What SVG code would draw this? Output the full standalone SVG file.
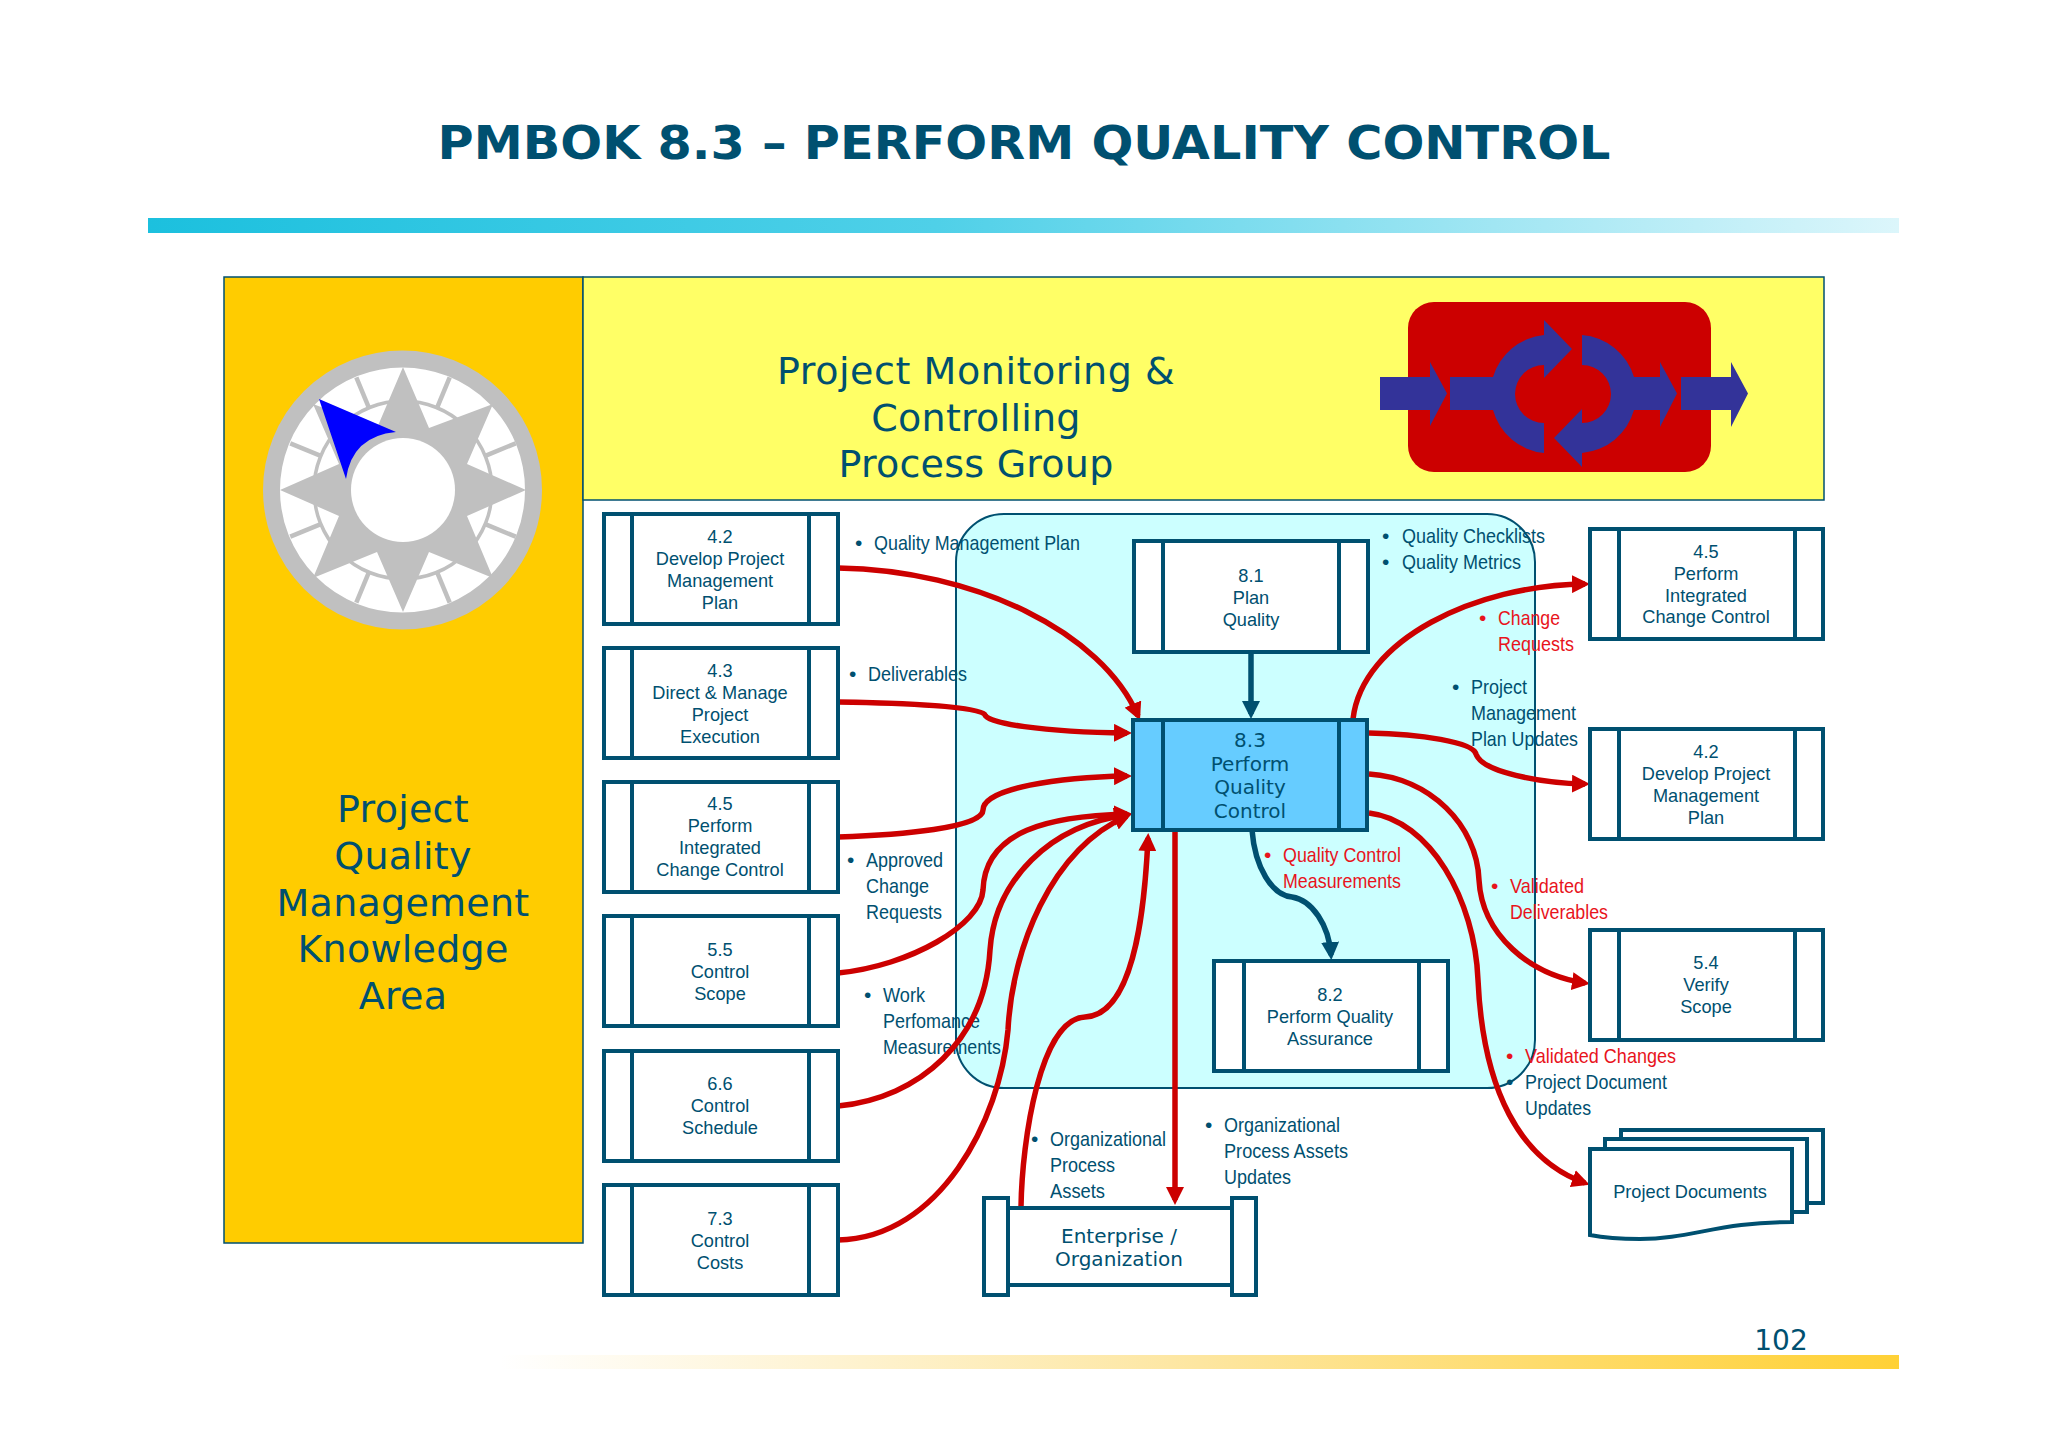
<svg xmlns="http://www.w3.org/2000/svg" width="2048" height="1447" viewBox="0 0 2048 1447">
<style>
.box{fill:#fff;stroke:#005070;stroke-width:4}
.div{stroke:#005070;stroke-width:4;fill:none}
.t{font-family:"Liberation Sans",Arial,sans-serif;font-size:18.2px;fill:#005070;text-anchor:middle}
.d{font-family:"DejaVu Sans",Verdana,sans-serif;fill:#005070;text-anchor:middle}
.big{font-size:38px;letter-spacing:.25px}
.mid{font-size:20px}
.l{font-family:"Liberation Sans",Arial,sans-serif;font-size:21px;fill:#005070}
.r{fill:#e8141c}
.red{fill:none;stroke:#cc0000;stroke-width:5.5;marker-end:url(#ar)}
.teal{fill:none;stroke:#005070;stroke-width:5.5;marker-end:url(#at)}
.grey{fill:#c0c0c0}
.ind{fill:#333399}
</style>
<defs>
<linearGradient id="gt"><stop offset="0" stop-color="#1cc0de"/><stop offset=".45" stop-color="#4fd0e8"/><stop offset="1" stop-color="#dcf6fb"/></linearGradient>
<linearGradient id="gb"><stop offset="0" stop-color="#ffffff"/><stop offset=".5" stop-color="#fde6a0"/><stop offset="1" stop-color="#ffd136"/></linearGradient>
<marker id="ar" markerUnits="userSpaceOnUse" viewBox="0 0 18 18" markerWidth="18" markerHeight="18" refX="13" refY="9" orient="auto"><path d="M0 0L18 9L0 18Z" fill="#cc0000"/></marker>
<marker id="at" markerUnits="userSpaceOnUse" viewBox="0 0 18 18" markerWidth="18" markerHeight="18" refX="13" refY="9" orient="auto"><path d="M0 0L18 9L0 18Z" fill="#005070"/></marker>
</defs>
<rect width="2048" height="1447" fill="#fff"/>
<text id="title" x="1024" y="159" font-family="'DejaVu Sans',Verdana,sans-serif" font-weight="700" font-size="46" fill="#005070" text-anchor="middle" textLength="1173" lengthAdjust="spacingAndGlyphs">PMBOK 8.3 – PERFORM QUALITY CONTROL</text>
<rect x="148" y="218" width="1751" height="15" fill="url(#gt)"/>
<rect x="500" y="1355" width="1399" height="14" fill="url(#gb)"/>
<text x="1781" y="1350" class="d" font-size="28">102</text>

<g id="knowledge-area">
<rect x="224" y="277" width="359" height="966" fill="#ffcc00" stroke="#005070" stroke-width="1.5"/>
<text class="d big" x="403" y="822">Project</text>
<text class="d big" x="403" y="869">Quality</text>
<text class="d big" x="403" y="916">Management</text>
<text class="d big" x="403" y="962">Knowledge</text>
<text class="d big" x="403" y="1009">Area</text>
</g>
<g id="compass">
<circle cx="402.500" cy="490" r="131" fill="#fff" stroke="#c0c0c0" stroke-width="17"/>
<circle cx="403" cy="490" r="89" fill="none" stroke="#c0c0c0" stroke-width="3.500"/>
<g stroke="#c0c0c0" stroke-width="4.500">
<line x1="403" y1="401" x2="403" y2="368" transform="rotate(22.5 403 490)"/>
<line x1="403" y1="401" x2="403" y2="368" transform="rotate(67.5 403 490)"/>
<line x1="403" y1="401" x2="403" y2="368" transform="rotate(112.5 403 490)"/>
<line x1="403" y1="401" x2="403" y2="368" transform="rotate(157.5 403 490)"/>
<line x1="403" y1="401" x2="403" y2="368" transform="rotate(202.5 403 490)"/>
<line x1="403" y1="401" x2="403" y2="368" transform="rotate(247.5 403 490)"/>
<line x1="403" y1="401" x2="403" y2="368" transform="rotate(292.5 403 490)"/>
<line x1="403" y1="401" x2="403" y2="368" transform="rotate(337.5 403 490)"/>
</g>
<polygon class="grey" points="403,367 429,428 493,404 467,464 526,490 467,516 493,578 429,552 403,612 377,552 313,578 339,516 280,490 339,464 313,404 377,428"/>
<path d="M319 399L396 432Q352 436 346 479Z" fill="#0000ff"/>
<circle cx="403" cy="490" r="52" fill="#fff"/>
</g>
<g id="process-group">
<rect x="583" y="277" width="1241" height="223" fill="#ffff66" stroke="#005070" stroke-width="1.5"/>
<text class="d big" x="976" y="384" textLength="398">Project Monitoring &amp;</text>
<text class="d big" x="976" y="431">Controlling</text>
<text class="d big" x="976" y="477">Process Group</text>
<rect x="1408" y="302" width="303" height="170" rx="26" fill="#cc0000"/>
<path class="ind" d="M1380 377H1430V362L1447 393.500L1430 426V410H1380Z"/>
<path class="ind" d="M1450 377H1493A59 59 0 0 1 1544 335V320L1572 349L1544 378V365A29 29 0 0 0 1544 423V453A59 59 0 0 1 1493 410H1450Z"/>
<path class="ind" d="M1582 335A59 59 0 0 1 1634 377H1660V362L1677 393.500L1660 427V410H1634A59 59 0 0 1 1582 453V467L1554 438L1582 409V423A29 29 0 0 0 1582 365Z"/>
<path class="ind" d="M1681 377H1731V362L1748 393.500L1731 427V410H1681Z"/>
</g>
<rect id="process-area" x="956" y="514" width="579" height="574" rx="48" fill="#ccffff" stroke="#005070" stroke-width="2"/>

<g id="input-labels">
<text class="l" x="855" y="550">•</text><text class="l" x="874" y="550" textLength="206" lengthAdjust="spacingAndGlyphs">Quality Management Plan</text>
<text class="l" x="849" y="681">•</text><text class="l" x="868" y="681" textLength="99" lengthAdjust="spacingAndGlyphs">Deliverables</text>
<text class="l" x="847" y="867">•</text><text class="l" x="866" y="867" textLength="77" lengthAdjust="spacingAndGlyphs">Approved</text>
<text class="l" x="866" y="893" textLength="63" lengthAdjust="spacingAndGlyphs">Change</text>
<text class="l" x="866" y="919" textLength="76" lengthAdjust="spacingAndGlyphs">Requests</text>
<text class="l" x="864" y="1002">•</text><text class="l" x="883" y="1002" textLength="42" lengthAdjust="spacingAndGlyphs">Work</text>
<text class="l" x="883" y="1028" textLength="97" lengthAdjust="spacingAndGlyphs">Perfomance</text>
<text class="l" x="883" y="1054" textLength="118" lengthAdjust="spacingAndGlyphs">Measurements</text>
<text class="l" x="1031" y="1146">•</text><text class="l" x="1050" y="1146" textLength="116" lengthAdjust="spacingAndGlyphs">Organizational</text>
<text class="l" x="1050" y="1172" textLength="65" lengthAdjust="spacingAndGlyphs">Process</text>
<text class="l" x="1050" y="1198" textLength="55" lengthAdjust="spacingAndGlyphs">Assets</text>
<text class="l" x="1205" y="1132">•</text><text class="l" x="1224" y="1132" textLength="116" lengthAdjust="spacingAndGlyphs">Organizational</text>
<text class="l" x="1224" y="1158" textLength="124" lengthAdjust="spacingAndGlyphs">Process Assets</text>
<text class="l" x="1224" y="1184" textLength="67" lengthAdjust="spacingAndGlyphs">Updates</text>
</g>
<g id="output-labels">
<text class="l" x="1382" y="543">•</text><text class="l" x="1402" y="543" textLength="143" lengthAdjust="spacingAndGlyphs">Quality Checklists</text>
<text class="l" x="1382" y="569">•</text><text class="l" x="1402" y="569" textLength="119" lengthAdjust="spacingAndGlyphs">Quality Metrics</text>
<text class="l r" x="1479" y="625">•</text><text class="l r" x="1498" y="625" textLength="62" lengthAdjust="spacingAndGlyphs">Change</text>
<text class="l r" x="1498" y="651" textLength="76" lengthAdjust="spacingAndGlyphs">Requests</text>
<text class="l" x="1452" y="694">•</text><text class="l" x="1471" y="694" textLength="56" lengthAdjust="spacingAndGlyphs">Project</text>
<text class="l" x="1471" y="720" textLength="105" lengthAdjust="spacingAndGlyphs">Management</text>
<text class="l" x="1471" y="746" textLength="107" lengthAdjust="spacingAndGlyphs">Plan Updates</text>
<text class="l r" x="1264" y="862">•</text><text class="l r" x="1283" y="862" textLength="118" lengthAdjust="spacingAndGlyphs">Quality Control</text>
<text class="l r" x="1283" y="888" textLength="118" lengthAdjust="spacingAndGlyphs">Measurements</text>
<text class="l r" x="1491" y="893">•</text><text class="l r" x="1510" y="893" textLength="74" lengthAdjust="spacingAndGlyphs">Validated</text>
<text class="l r" x="1510" y="919" textLength="98" lengthAdjust="spacingAndGlyphs">Deliverables</text>
<text class="l r" x="1506" y="1063">•</text><text class="l r" x="1525" y="1063" textLength="151" lengthAdjust="spacingAndGlyphs">Validated Changes</text>
<text class="l" x="1506" y="1089">•</text><text class="l" x="1525" y="1089" textLength="142" lengthAdjust="spacingAndGlyphs">Project Document</text>
<text class="l" x="1525" y="1115" textLength="66" lengthAdjust="spacingAndGlyphs">Updates</text>
</g>

<g id="connectors">
<path class="red" d="M838 568C975 570 1102 632 1138 716"/>
<path class="red" d="M838 702C900 703 983 706 985 715C988 723 1040 732 1127 733"/>
<path class="red" d="M838 837C900 835 983 828 983 810C983 788 1060 777 1127 776"/>
<path class="red" d="M838 973C910 966 981 925 983 890C985 830 1050 816 1127 814"/>
<path class="red" d="M838 1106C920 1098 985 1040 990 950C995 880 1050 825 1127 815"/>
<path class="red" d="M838 1240C940 1238 1000 1120 1008 1030C1012 950 1050 850 1127 816"/>
<path class="red" d="M1021 1207C1022 1140 1040 1019 1085 1017C1140 1015 1146 880 1148 838"/>
<path class="red" d="M1175 830V1200"/>
<path class="red" d="M1353 719C1362 640 1475 585 1585 584"/>
<path class="red" d="M1369 733C1420 734 1473 742 1476 754C1482 772 1540 783 1585 784"/>
<path class="red" d="M1369 774C1430 778 1477 825 1479 880C1482 935 1530 975 1585 983"/>
<path class="red" d="M1369 813C1430 820 1475 900 1478 980C1483 1090 1520 1160 1585 1183"/>
<path class="teal" d="M1251 652V714"/>
<path class="teal" d="M1252 830C1255 868 1272 895 1292 897C1312 900 1329 925 1331 955"/>
</g>

<g id="n42a"><rect class="box" x="604" y="514" width="234" height="110"/><path class="div" d="M632 514V624M809 514V624"/><text class="t" x="720" y="543">4.2</text><text class="t" x="720" y="565">Develop Project</text><text class="t" x="720" y="587">Management</text><text class="t" x="720" y="609">Plan</text></g>
<g id="n43"><rect class="box" x="604" y="648" width="234" height="110"/><path class="div" d="M632 648V758M809 648V758"/><text class="t" x="720" y="677">4.3</text><text class="t" x="720" y="699">Direct &amp; Manage</text><text class="t" x="720" y="721">Project</text><text class="t" x="720" y="743">Execution</text></g>
<g id="n45a"><rect class="box" x="604" y="782" width="234" height="110"/><path class="div" d="M632 782V892M809 782V892"/><text class="t" x="720" y="810">4.5</text><text class="t" x="720" y="832">Perform</text><text class="t" x="720" y="854">Integrated</text><text class="t" x="720" y="876">Change Control</text></g>
<g id="n55"><rect class="box" x="604" y="916" width="234" height="110"/><path class="div" d="M632 916V1026M809 916V1026"/><text class="t" x="720" y="956">5.5</text><text class="t" x="720" y="978">Control</text><text class="t" x="720" y="1000">Scope</text></g>
<g id="n66"><rect class="box" x="604" y="1051" width="234" height="110"/><path class="div" d="M632 1051V1161M809 1051V1161"/><text class="t" x="720" y="1090">6.6</text><text class="t" x="720" y="1112">Control</text><text class="t" x="720" y="1134">Schedule</text></g>
<g id="n73"><rect class="box" x="604" y="1185" width="234" height="110"/><path class="div" d="M632 1185V1295M809 1185V1295"/><text class="t" x="720" y="1225">7.3</text><text class="t" x="720" y="1247">Control</text><text class="t" x="720" y="1269">Costs</text></g>

<g id="n81"><rect class="box" x="1134" y="541" width="234" height="111"/><path class="div" d="M1163 541V652M1339 541V652"/><text class="t" x="1251" y="582">8.1</text><text class="t" x="1251" y="604">Plan</text><text class="t" x="1251" y="626">Quality</text></g>
<g id="n83"><rect class="box" x="1133" y="720" width="234" height="110" style="fill:#66ccff"/><path class="div" d="M1163 720V830M1339 720V830"/><text class="d mid" x="1250" y="747">8.3</text><text class="d mid" x="1250" y="771">Perform</text><text class="d mid" x="1250" y="794">Quality</text><text class="d mid" x="1250" y="818">Control</text></g>
<g id="n82"><rect class="box" x="1214" y="961" width="234" height="110"/><path class="div" d="M1244 961V1071M1419 961V1071"/><text class="t" x="1330" y="1001">8.2</text><text class="t" x="1330" y="1023">Perform Quality</text><text class="t" x="1330" y="1045">Assurance</text></g>

<g id="n45b"><rect class="box" x="1590" y="529" width="233" height="110"/><path class="div" d="M1619 529V639M1795 529V639"/><text class="t" x="1706" y="558">4.5</text><text class="t" x="1706" y="580">Perform</text><text class="t" x="1706" y="602">Integrated</text><text class="t" x="1706" y="623">Change Control</text></g>
<g id="n42b"><rect class="box" x="1590" y="729" width="233" height="110"/><path class="div" d="M1619 729V839M1795 729V839"/><text class="t" x="1706" y="758">4.2</text><text class="t" x="1706" y="780">Develop Project</text><text class="t" x="1706" y="802">Management</text><text class="t" x="1706" y="824">Plan</text></g>
<g id="n54"><rect class="box" x="1590" y="930" width="233" height="110"/><path class="div" d="M1619 930V1040M1795 930V1040"/><text class="t" x="1706" y="969">5.4</text><text class="t" x="1706" y="991">Verify</text><text class="t" x="1706" y="1013">Scope</text></g>

<g id="project-documents">
<rect class="box" x="1621" y="1130" width="202" height="73"/>
<rect class="box" x="1605" y="1139" width="202" height="73"/>
<path class="box" d="M1590 1149H1792V1222C1720 1222 1690 1239 1640 1239C1620 1239 1605 1238 1590 1235Z"/>
<text class="t" x="1690" y="1198">Project Documents</text>
</g>
<g id="enterprise">
<rect class="box" x="1008" y="1208" width="224" height="77"/>
<rect class="box" x="984" y="1198" width="24" height="97"/>
<rect class="box" x="1232" y="1198" width="24" height="97"/>
<text class="d mid" x="1119" y="1243">Enterprise /</text>
<text class="d mid" x="1119" y="1266">Organization</text>
</g>
</svg>
